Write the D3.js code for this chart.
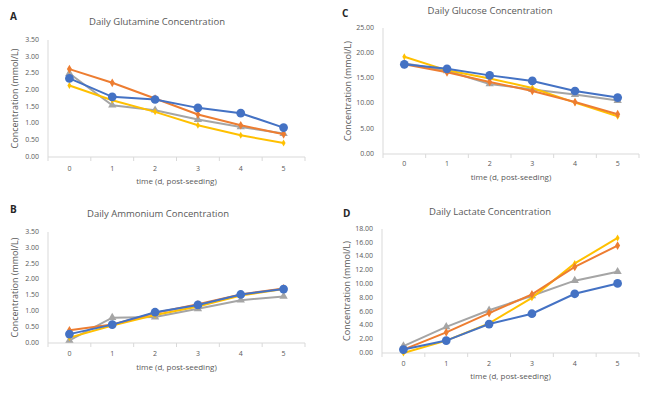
<!DOCTYPE html>
<head>
  <meta charset="utf-8">
  <script src="https://d3js.org/d3.v7.min.js"></script>
  <style>
    body { margin: 0; background: #fff; font-family: 'Open Sans', sans-serif; }
    text { fill: #595959; }
    .title { font-size: 9.5px; }
    .tick-label { font-size: 7px; }
    .axis-title { font-size: 8px; }
    .y-title { font-size: 9px; }
    .panel-label { font-size: 10px; font-weight: 700; fill: #262626; }
  </style>
</head>
<body>
<div id="chart"></div>
<script>

// days on the x axis
const days = ["0", "1", "2", "3", "4", "5"];

// ---- A: glutamine ----
const glutBlue   = [2.35, 1.80, 1.72, 1.47, 1.31, 0.88];
const glutOrange = [2.63, 2.22, 1.75, 1.27, 0.95, 0.68];
const glutGray   = [2.50, 1.55, 1.40, 1.12, 0.90, 0.70];
const glutYellow = [2.14, 1.70, 1.35, 0.95, 0.65, 0.42];

// ---- B: ammonium ----
const ammBlue   = [0.28, 0.58, 0.97, 1.20, 1.53, 1.70];
const ammOrange = [0.40, 0.58, 0.95, 1.22, 1.53, 1.72];
const ammGray   = [0.08, 0.80, 0.82, 1.08, 1.35, 1.47];
const ammYellow = [0.17, 0.55, 0.88, 1.15, 1.50, 1.70];

// ---- C: glucose ----
const glucBlue   = [17.8, 16.9, 15.6, 14.5, 12.5, 11.2];
const glucOrange = [17.8, 16.2, 14.3, 12.5, 10.3, 7.9];
const glucGray   = [18.0, 16.5, 13.9, 12.8, 11.8, 10.6];
const glucYellow = [19.3, 16.6, 15.0, 13.1, 10.2, 7.5];

// ---- D: lactate ----
const lacBlue   = [0.5, 1.8, 4.2, 5.7, 8.6, 10.1];
const lacOrange = [0.5, 3.0, 5.8, 8.5, 12.5, 15.6];
const lacGray   = [1.0, 3.8, 6.2, 8.3, 10.5, 11.8];
const lacYellow = [0.0, 1.8, 4.3, 8.0, 13.0, 16.7];

// y tick values
const ticksSmall = d3.range(0, 3.51, 0.5);
const ticksGluc  = d3.range(0, 25.1, 5);
const ticksLac   = d3.range(0, 18.1, 2);

const colors = { blue: "#4472C4", orange: "#ED7D31", gray: "#A5A5A5", yellow: "#FFC000" };

const panels = [
  { label: "A", title: "Daily Glutamine Concentration", max: 3.5, ticks: ticksSmall,
    series: { gray: glutGray, yellow: glutYellow, orange: glutOrange, blue: glutBlue },
    x0: 48, x1: 305, yTop: 40, yBot: 157, titleX: 157, titleY: 22, labelX: 10, labelY: 17,
    tickY: 169, xTitleY: 182, yTitleX: 16 },
  { label: "B", title: "Daily Ammonium Concentration", max: 3.5, ticks: ticksSmall,
    series: { gray: ammGray, yellow: ammYellow, orange: ammOrange, blue: ammBlue },
    x0: 48, x1: 305, yTop: 232, yBot: 343, titleX: 158, titleY: 214, labelX: 10, labelY: 210,
    tickY: 354, xTitleY: 368, yTitleX: 16 },
  { label: "C", title: "Daily Glucose Concentration", max: 25, ticks: ticksGluc,
    series: { gray: glucGray, yellow: glucYellow, orange: glucOrange, blue: glucBlue },
    x0: 383, x1: 639, yTop: 28, yBot: 154, titleX: 490, titleY: 11, labelX: 342, labelY: 14,
    tickY: 164, xTitleY: 178, yTitleX: 349 },
  { label: "D", title: "Daily Lactate Concentration", max: 18, ticks: ticksLac,
    series: { gray: lacGray, yellow: lacYellow, orange: lacOrange, blue: lacBlue },
    x0: 382, x1: 639, yTop: 229, yBot: 353, titleX: 490, titleY: 212, labelX: 343, labelY: 214,
    tickY: 364, xTitleY: 377, yTitleX: 348 }
];

const svg = d3.select("#chart").append("svg")
  .attr("width", 650).attr("height", 395);

panels.forEach(function(p) {
  const g = svg.append("g");
  const x = d3.scaleBand().domain(days).range([p.x0, p.x1]);
  const y = d3.scaleLinear().domain([0, p.max]).range([p.yBot, p.yTop]);
  const cx = d => x(d) + x.bandwidth() / 2;

  // y labels
  g.selectAll(".ylab").data(p.ticks).enter().append("text")
    .attr("class", "tick-label")
    .attr("x", p.x0 - 9).attr("y", d => y(d))
    .attr("text-anchor", "end").attr("dominant-baseline", "middle")
    .text(d => d.toFixed(2));

  // axes lines
  g.append("line").attr("x1", p.x0).attr("x2", p.x0).attr("y1", p.yTop).attr("y2", p.yBot)
    .attr("stroke", "#d9d9d9");
  g.append("line").attr("x1", p.x0).attr("x2", p.x1).attr("y1", p.yBot).attr("y2", p.yBot)
    .attr("stroke", "#d9d9d9");
  g.selectAll(".xtick").data(days.concat(["end"])).enter().append("line")
    .attr("x1", (d, i) => p.x0 + i * x.bandwidth()).attr("x2", (d, i) => p.x0 + i * x.bandwidth())
    .attr("y1", p.yBot).attr("y2", p.yBot + 4)
    .attr("stroke", "#d9d9d9");

  g.selectAll(".xlab").data(days).enter().append("text")
    .attr("class", "tick-label")
    .attr("x", d => cx(d)).attr("y", p.tickY)
    .attr("text-anchor", "middle").attr("dominant-baseline", "middle")
    .text(d => d);

  g.append("text").attr("class", "axis-title")
    .attr("x", (p.x0 + p.x1) / 2).attr("y", p.xTitleY)
    .attr("text-anchor", "middle").attr("dominant-baseline", "middle")
    .text("time (d, post-seeding)");

  g.append("text").attr("class", "y-title")
    .attr("transform", "translate(" + p.yTitleX + "," + (p.yTop + p.yBot) / 2 + ") rotate(-90)")
    .attr("text-anchor", "middle").attr("dominant-baseline", "middle")
    .text("Concentration (mmol/L)");

  g.append("text").attr("class", "title")
    .attr("x", p.titleX).attr("y", p.titleY)
    .attr("text-anchor", "middle").attr("dominant-baseline", "middle")
    .text(p.title);

  g.append("text").attr("class", "panel-label")
    .attr("x", p.labelX).attr("y", p.labelY)
    .attr("dominant-baseline", "middle")
    .text(p.label);

  const line = d3.line().x((d, i) => cx(days[i])).y(d => y(d));

  Object.keys(p.series).forEach(function(key) {
    const vals = p.series[key];
    g.append("path").datum(vals)
      .attr("d", line)
      .attr("fill", "none")
      .attr("stroke", colors[key])
      .attr("stroke-width", 2);

    let sym, size;
    if (key === "blue") { sym = d3.symbolCircle; size = 60; }
    else if (key === "gray") { sym = d3.symbolTriangle; size = 30; }
    else if (key === "orange") { sym = d3.symbolDiamond; size = 22; }
    else { sym = d3.symbolDiamond; size = 14; }

    g.selectAll(".m-" + key).data(vals).enter().append("path")
      .attr("d", d3.symbol().type(sym).size(size))
      .attr("transform", (d, i) => "translate(" + cx(days[i]) + "," + y(d) + ")")
      .attr("fill", colors[key]);
  });
});

</script>
</body>
